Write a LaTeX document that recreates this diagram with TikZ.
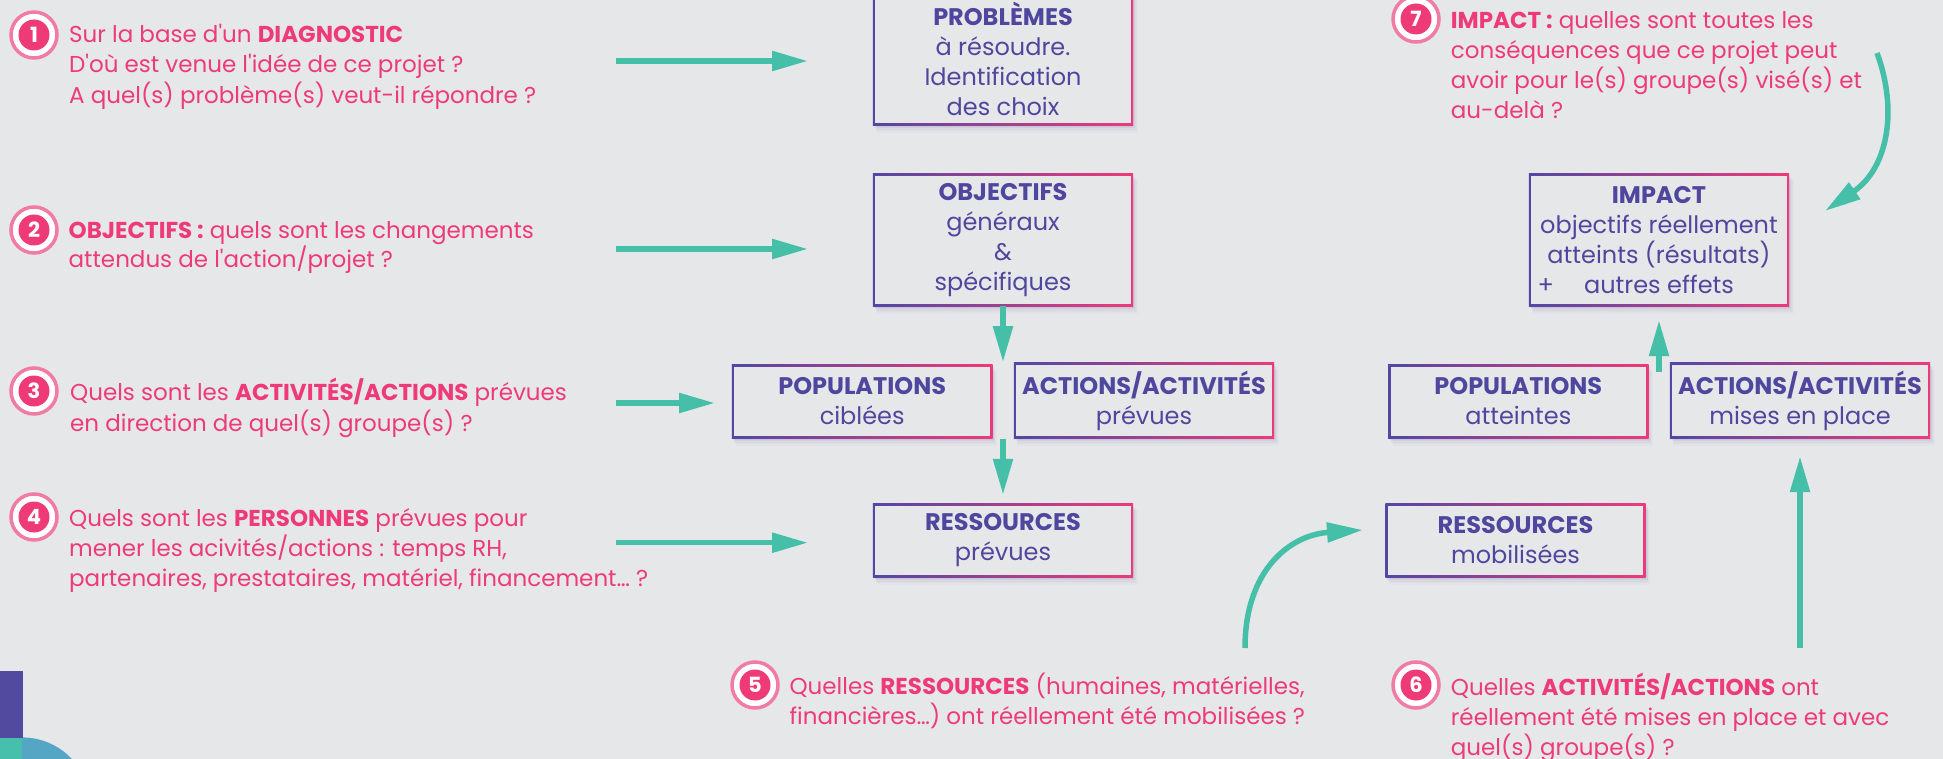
\documentclass[tikz,border=0pt]{standalone}
\usepackage{fontspec}
\setmainfont{Poppins}
\newfontfamily\boxf{Poppins}
\newfontfamily\pinkf{Poppins}
\usetikzlibrary{arrows.meta,calc}
\pgfdeclarelayer{bg}
\pgfsetlayers{bg,main}
\definecolor{bgc}{HTML}{E6E7E9}
\definecolor{purp}{HTML}{4F479E}
\definecolor{pinkc}{HTML}{EE3B77}
\definecolor{ringc}{HTML}{F27BA3}
\definecolor{tealc}{HTML}{45BFA8}
\definecolor{decop}{HTML}{524A9E}
\definecolor{decot}{HTML}{46BFAD}
\definecolor{decob}{HTML}{55A6C4}
\definecolor{bordA}{HTML}{5247A5}
\definecolor{bordB}{HTML}{EE3A78}
\newcommand{\gbox}[1]{%
  \begin{pgfonlayer}{bg}
    \foreach \sh/\op in {1.5/0.06,3/0.05,4.5/0.04,6/0.03,7.5/0.02} {
      \fill[purp,opacity=\op] ($(#1.south west)+(\sh*0.6,\sh)$) rectangle ($(#1.north east)+(\sh*0.6,\sh)$);
    }
    \shade[left color=bordA,right color=bordB] (#1.south west) rectangle (#1.north east);
    \fill[bgc] ($(#1.south west)+(2.4,-2.4)$) rectangle ($(#1.north east)+(-2.4,2.4)$);
  \end{pgfonlayer}}
\begin{document}
\begin{tikzpicture}[x=1pt,y=-1pt,
  box/.style={font=\boxf\fontsize{24}{30}\selectfont, text=purp, align=center, inner sep=0pt, minimum width=260pt, minimum height=73pt},
  bigbox/.style={box, minimum height=132pt},
  pk/.style={anchor=base west, inner sep=0pt, font=\pinkf\fontsize{23}{30}\selectfont, text=pinkc},
  numring/.style={circle, fill=white, draw=ringc, line width=3.5pt, minimum size=46pt, inner sep=0pt},
  numdisc/.style={circle, fill=pinkc, minimum size=31pt, inner sep=0pt, text=white, font=\pinkf\bfseries\fontsize{21}{21}\selectfont},
  arr/.style={draw=tealc, line width=5.5pt, -{Triangle[length=36pt,width=19pt]}}]
\useasboundingbox (0,0) rectangle (1943,759);
\begin{pgfonlayer}{bg}\fill[bgc] (0,0) rectangle (1943,759);\end{pgfonlayer}
% decoration bottom left
\fill[decob] (22,806) circle (68.6);
\fill[decop] (0,671) rectangle (23,738);
\fill[decot] (0,738) rectangle (22,759);
% boxes
\node[bigbox] (b1) at (1003,59) {\textbf{PROBLÈMES}\\à résoudre.\\Identification\\des choix};
\node[bigbox] (b2) at (1003,240) {\textbf{OBJECTIFS}\\généraux\\\&\\spécifiques};
\node[box, minimum width=260.5pt] (b3) at (862.2,401.5) {\textbf{POPULATIONS}\\ciblées};
\node[box, minimum height=75pt] (b4) at (1144,400.5) {\textbf{ACTIONS/ACTIVITÉS}\\prévues};
\node[box] (b5) at (1003,540.5) {\textbf{RESSOURCES}\\prévues};
\node[bigbox] (b6) at (1659,240) {\textbf{IMPACT}\\objectifs réellement\\atteints (résultats)\\\llap{+\hspace{30pt}}autres effets};
\node[box] (b7) at (1518.3,401.5) {\textbf{POPULATIONS}\\atteintes};
\node[box, minimum height=75pt] (b8) at (1800,400.5) {\textbf{ACTIONS/ACTIVITÉS}\\mises en place};
\node[box] (b9) at (1515.5,540.5) {\textbf{RESSOURCES}\\mobilisées};
\foreach \b in {b1,b2,b3,b4,b5,b6,b7,b8,b9} {\gbox{\b}}
% numbered circles
\node[numring] (n1) at (34,35) {}; \node[numdisc] (d1) at (n1) {1};
\node[numring] (n2) at (34,230) {}; \node[numdisc] (d2) at (n2) {2};
\node[numring] (n3) at (34,391) {}; \node[numdisc] (d3) at (n3) {3};
\node[numring] (n4) at (34,517) {}; \node[numdisc] (d4) at (n4) {4};
\node[numring] (n5) at (755,685) {}; \node[numdisc] (d5) at (n5) {5};
\node[numring] (n6) at (1416,685) {}; \node[numdisc] (d6) at (n6) {6};
\node[numring] (n7) at (1416,19) {}; \node[numdisc] (d7) at (n7) {7};
% pink texts
\node[pk] (t1a) at (69,42.5) {Sur la base d'un \textbf{DIAGNOSTIC}};
\node[pk] (t1b) at (69,73) {D'où est venue l'idée de ce projet ?};
\node[pk] (t1c) at (69,103.5) {A quel(s) problème(s) veut-il répondre ?};
\node[pk] (t2a) at (68.5,238.3) {\textbf{OBJECTIFS :} quels sont les changements};
\node[pk] (t2b) at (68.5,268) {attendus de l'action/projet ?};
\node[pk] (t3a) at (70,400) {Quels sont les \textbf{ACTIVITÉS/ACTIONS} prévues};
\node[pk] (t3b) at (70,431) {en direction de quel(s) groupe(s) ?};
\node[pk] (t4a) at (69,526.7) {Quels sont les \textbf{PERSONNES} prévues pour};
\node[pk] (t4b) at (69,556) {mener les acivités/actions : temps RH,};
\node[pk] (t4c) at (69,586) {partenaires, prestataires, matériel, financement… ?};
\node[pk] (t5a) at (789.4,694) {Quelles \textbf{RESSOURCES} (humaines, matérielles,};
\node[pk] (t5b) at (789.4,724.3) {financières…) ont réellement été mobilisées ?};
\node[pk] (t6a) at (1450.7,695) {Quelles \textbf{ACTIVITÉS/ACTIONS} ont};
\node[pk] (t6b) at (1450.7,725) {réellement été mises en place et avec};
\node[pk] (t6c) at (1450.7,755) {quel(s) groupe(s) ?};
\node[pk] (t7a) at (1450.7,28.3) {\textbf{IMPACT :} quelles sont toutes les};
\node[pk] (t7b) at (1450.7,58.3) {conséquences que ce projet peut};
\node[pk] (t7c) at (1450.7,88.3) {avoir pour le(s) groupe(s) visé(s) et};
\node[pk] (t7d) at (1450.7,118.3) {au-delà ?};
% arrow coordinates
\coordinate (a1s) at (616,61);  \coordinate (a1e) at (808,61);
\coordinate (a2s) at (616,249); \coordinate (a2e) at (808,249);
\coordinate (a3s) at (616,403); \coordinate (a3e) at (715,403);
\coordinate (a4s) at (616,542.7); \coordinate (a4e) at (808,542.7);
\coordinate (c1s) at (1877,53); \coordinate (c1e) at (1825,211);
\coordinate (c2s) at (1245,648); \coordinate (c2e) at (1363,530);
\draw[arr] (a1s) -- (a1e);
\draw[arr] (a2s) -- (a2e);
\draw[arr] (a3s) -- (a3e);
\draw[arr] (a4s) -- (a4e);
\draw[arr] (b2.south) -- ($(b2.south)+(0,56)$);
\draw[arr] ($(b5.north)+(0,-65)$) -- ($(b5.north)+(0,-9)$);
\draw[arr] ($(b6.south)+(0,66)$) -- ($(b6.south)+(0,14)$);
\draw[arr] ($(b8.south)+(0,210)$) -- ($(b8.south)+(0,18)$);
\draw[arr] (c1s) .. controls (1898,110) and (1888,168) .. (c1e);
\draw[arr] (c2s) .. controls (1245,570) and (1290,535) .. (c2e);
\end{tikzpicture}
\end{document}
